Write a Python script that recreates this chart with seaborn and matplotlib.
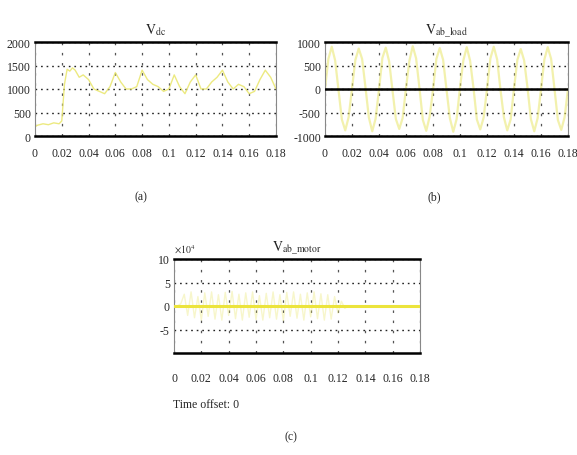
import numpy as np
import pandas as pd
import matplotlib
matplotlib.use("Agg")
import matplotlib.pyplot as plt
import seaborn as sns

# ---------------- data ----------------
t_dc = [0, 0.002, 0.006, 0.010, 0.014, 0.018, 0.020, 0.022, 0.024, 0.026, 0.028,
        0.030, 0.033, 0.036, 0.040, 0.044, 0.048, 0.052, 0.056, 0.060, 0.064,
        0.068, 0.072, 0.076, 0.080, 0.084, 0.088, 0.092, 0.096, 0.100, 0.104,
        0.108, 0.112, 0.116, 0.120, 0.124, 0.128, 0.132, 0.136, 0.140, 0.144,
        0.148, 0.152, 0.156, 0.160, 0.164, 0.168, 0.172, 0.176, 0.180]
v_dc = [200, 230, 260, 240, 280, 260, 320, 1100, 1420, 1380, 1450,
        1400, 1250, 1300, 1200, 1000, 950, 900, 1050, 1350, 1150,
        1000, 1000, 1050, 1400, 1200, 1100, 1050, 950, 1000, 1300,
        1050, 900, 1150, 1300, 1000, 1000, 1150, 1250, 1400, 1150,
        1000, 1100, 1050, 900, 950, 1200, 1400, 1250, 1000]

v_load = [0, 640, 900, 610, -20, -650, -880, -600,
          10, 620, 860, 640, 30, -610, -900, -630,
          -10, 660, 880, 590, -30, -640, -850, -620,
          20, 600, 910, 650, 10, -660, -890, -590,
          -20, 640, 870, 620, -10, -620, -910, -640,
          30, 610, 890, 600, 20, -650, -860, -610,
          0, 650, 900, 630, -20, -600, -880, -650,
          10, 620, 850, 610, 30, -640, -900, -620,
          -10, 630, 890, 640, 0, -660, -870, -600,
          0]

v_motor = [0, 0, 0.5, 2.5, -2.0, 3.0, -2.5, 2.0, -3.0, 2.8,
           -2.2, 3.0, -2.8, 2.4, -3.0, 2.9, -2.0, 3.1, -2.7, 2.5,
           -3.0, 2.8, -2.4, 3.0, -2.9, 2.2, -3.0, 2.7, -2.5, 3.0,
           -2.8, 2.4, -3.1, 2.9, -2.2, 3.0, -2.6, 2.5, -3.0, 2.8,
           -2.3, 3.0, -2.7, 2.6, -3.0, 2.4, -2.8, 2.0, -1.5, 1.0,
           -0.5, 0, 0, 0, 0, 0, 0, 0, 0, 0,
           0, 0, 0, 0, 0, 0, 0, 0, 0, 0,
           0, 0, 0]

x_ticks = [0, 0.02, 0.04, 0.06, 0.08, 0.1, 0.12, 0.14, 0.16, 0.18]
x_labels = ["0", "0.02", "0.04", "0.06", "0.08", "0.1", "0.12", "0.14", "0.16", "0.18"]

df_dc = pd.DataFrame({"t": t_dc, "v": v_dc})
df_load = pd.DataFrame({"t": np.linspace(0, 0.18, len(v_load)), "v": v_load})
df_motor = pd.DataFrame({"t": np.linspace(0, 0.18, len(v_motor)), "v": v_motor})

# ---------------- style ----------------
sns.set_style("white")
plt.rcParams["font.family"] = ["Liberation Serif", "DejaVu Serif"]
plt.rcParams["mathtext.fontset"] = "stix"
plt.rcParams["lines.scale_dashes"] = False

W, H = 577, 456
fig = plt.figure(figsize=(W / 100, H / 100), dpi=100)
YEL = "#e9e66a"

def box(l, t, r, b):
    return [l / W, 1 - b / H, (r - l) / W, (b - t) / H]

def style_ax(ax, yticks, ylabels):
    ax.set_xlim(0, 0.18)
    ax.set_xticks(x_ticks)
    ax.set_xticklabels(x_labels)
    ax.set_yticks(yticks)
    ax.set_yticklabels(ylabels)
    ax.set_xlabel("")
    ax.set_ylabel("")
    ax.tick_params(axis="both", length=0, labelsize=8.5, pad=8)
    ax.tick_params(axis="y", pad=3)
    for s in ["top", "bottom"]:
        ax.spines[s].set_linewidth(1.8)
        ax.spines[s].set_color("black")
    for s in ["left", "right"]:
        ax.spines[s].set_linewidth(0.8)
        ax.spines[s].set_color("#888888")
    ax.grid(True, axis="y", linestyle=(0, (1.2, 2.8)), color="#222222", linewidth=1.0)
    ax.grid(True, axis="x", linestyle=(0, (1.8, 5.5)), color="#555555", linewidth=0.9)
    ax.set_axisbelow(True)

# (a)
ax1 = fig.add_axes(box(35, 43, 276, 137))
sns.lineplot(data=df_dc, x="t", y="v", ax=ax1, color=YEL, linewidth=1.0, alpha=0.85)
ax1.set_ylim(0, 2000)
style_ax(ax1, [0, 500, 1000, 1500, 2000], ["0", "500", "1000", "1500", "2000"])
ax1.set_title(r"$\mathrm{V}_{\mathrm{dc}}$", fontsize=10, pad=6)

# (b)
ax2 = fig.add_axes(box(325, 43, 568, 137))
sns.lineplot(data=df_load, x="t", y="v", ax=ax2, color=YEL, linewidth=1.6, alpha=0.55)
ax2.set_ylim(-1000, 1000)
style_ax(ax2, [-1000, -500, 0, 500, 1000], ["-1000", "-500", "0", "500", "1000"])
ax2.axhline(0, color="black", linewidth=1.8, zorder=3)
ax2.set_title(r"$\mathrm{V}_{\mathrm{ab\_load}}$", fontsize=10, pad=6)

# (c)
ax3 = fig.add_axes(box(174, 260, 420, 354))
sns.lineplot(data=df_motor, x="t", y="v", ax=ax3, color=YEL, linewidth=1.0, alpha=0.35)
ax3.axhline(0, color="#ece43c", linewidth=2.2, zorder=3)
ax3.set_ylim(-10, 10)
style_ax(ax3, [-5, 0, 5, 10], ["-5", "0", "5", "10"])
ax3.tick_params(axis="x", pad=14)
ax3.set_title(r"$\mathrm{V}_{\mathrm{ab\_motor}}$", fontsize=10, pad=6)
ax3.text(0.0, 1.04, r"$\times10^{4}$", transform=ax3.transAxes, fontsize=7,
         ha="left", va="bottom")
fig.text(173 / W, 1 - 405 / H, "Time offset: 0", fontsize=8.5, ha="left", va="center")

# panel labels
fig.text(141 / W, 1 - 197 / H, "(a)", fontsize=8.5, ha="center", va="center")
fig.text(434 / W, 1 - 197 / H, "(b)", fontsize=8.5, ha="center", va="center")
fig.text(291 / W, 1 - 437 / H, "(c)", fontsize=8.5, ha="center", va="center")

fig.savefig("out.png", dpi=100)
